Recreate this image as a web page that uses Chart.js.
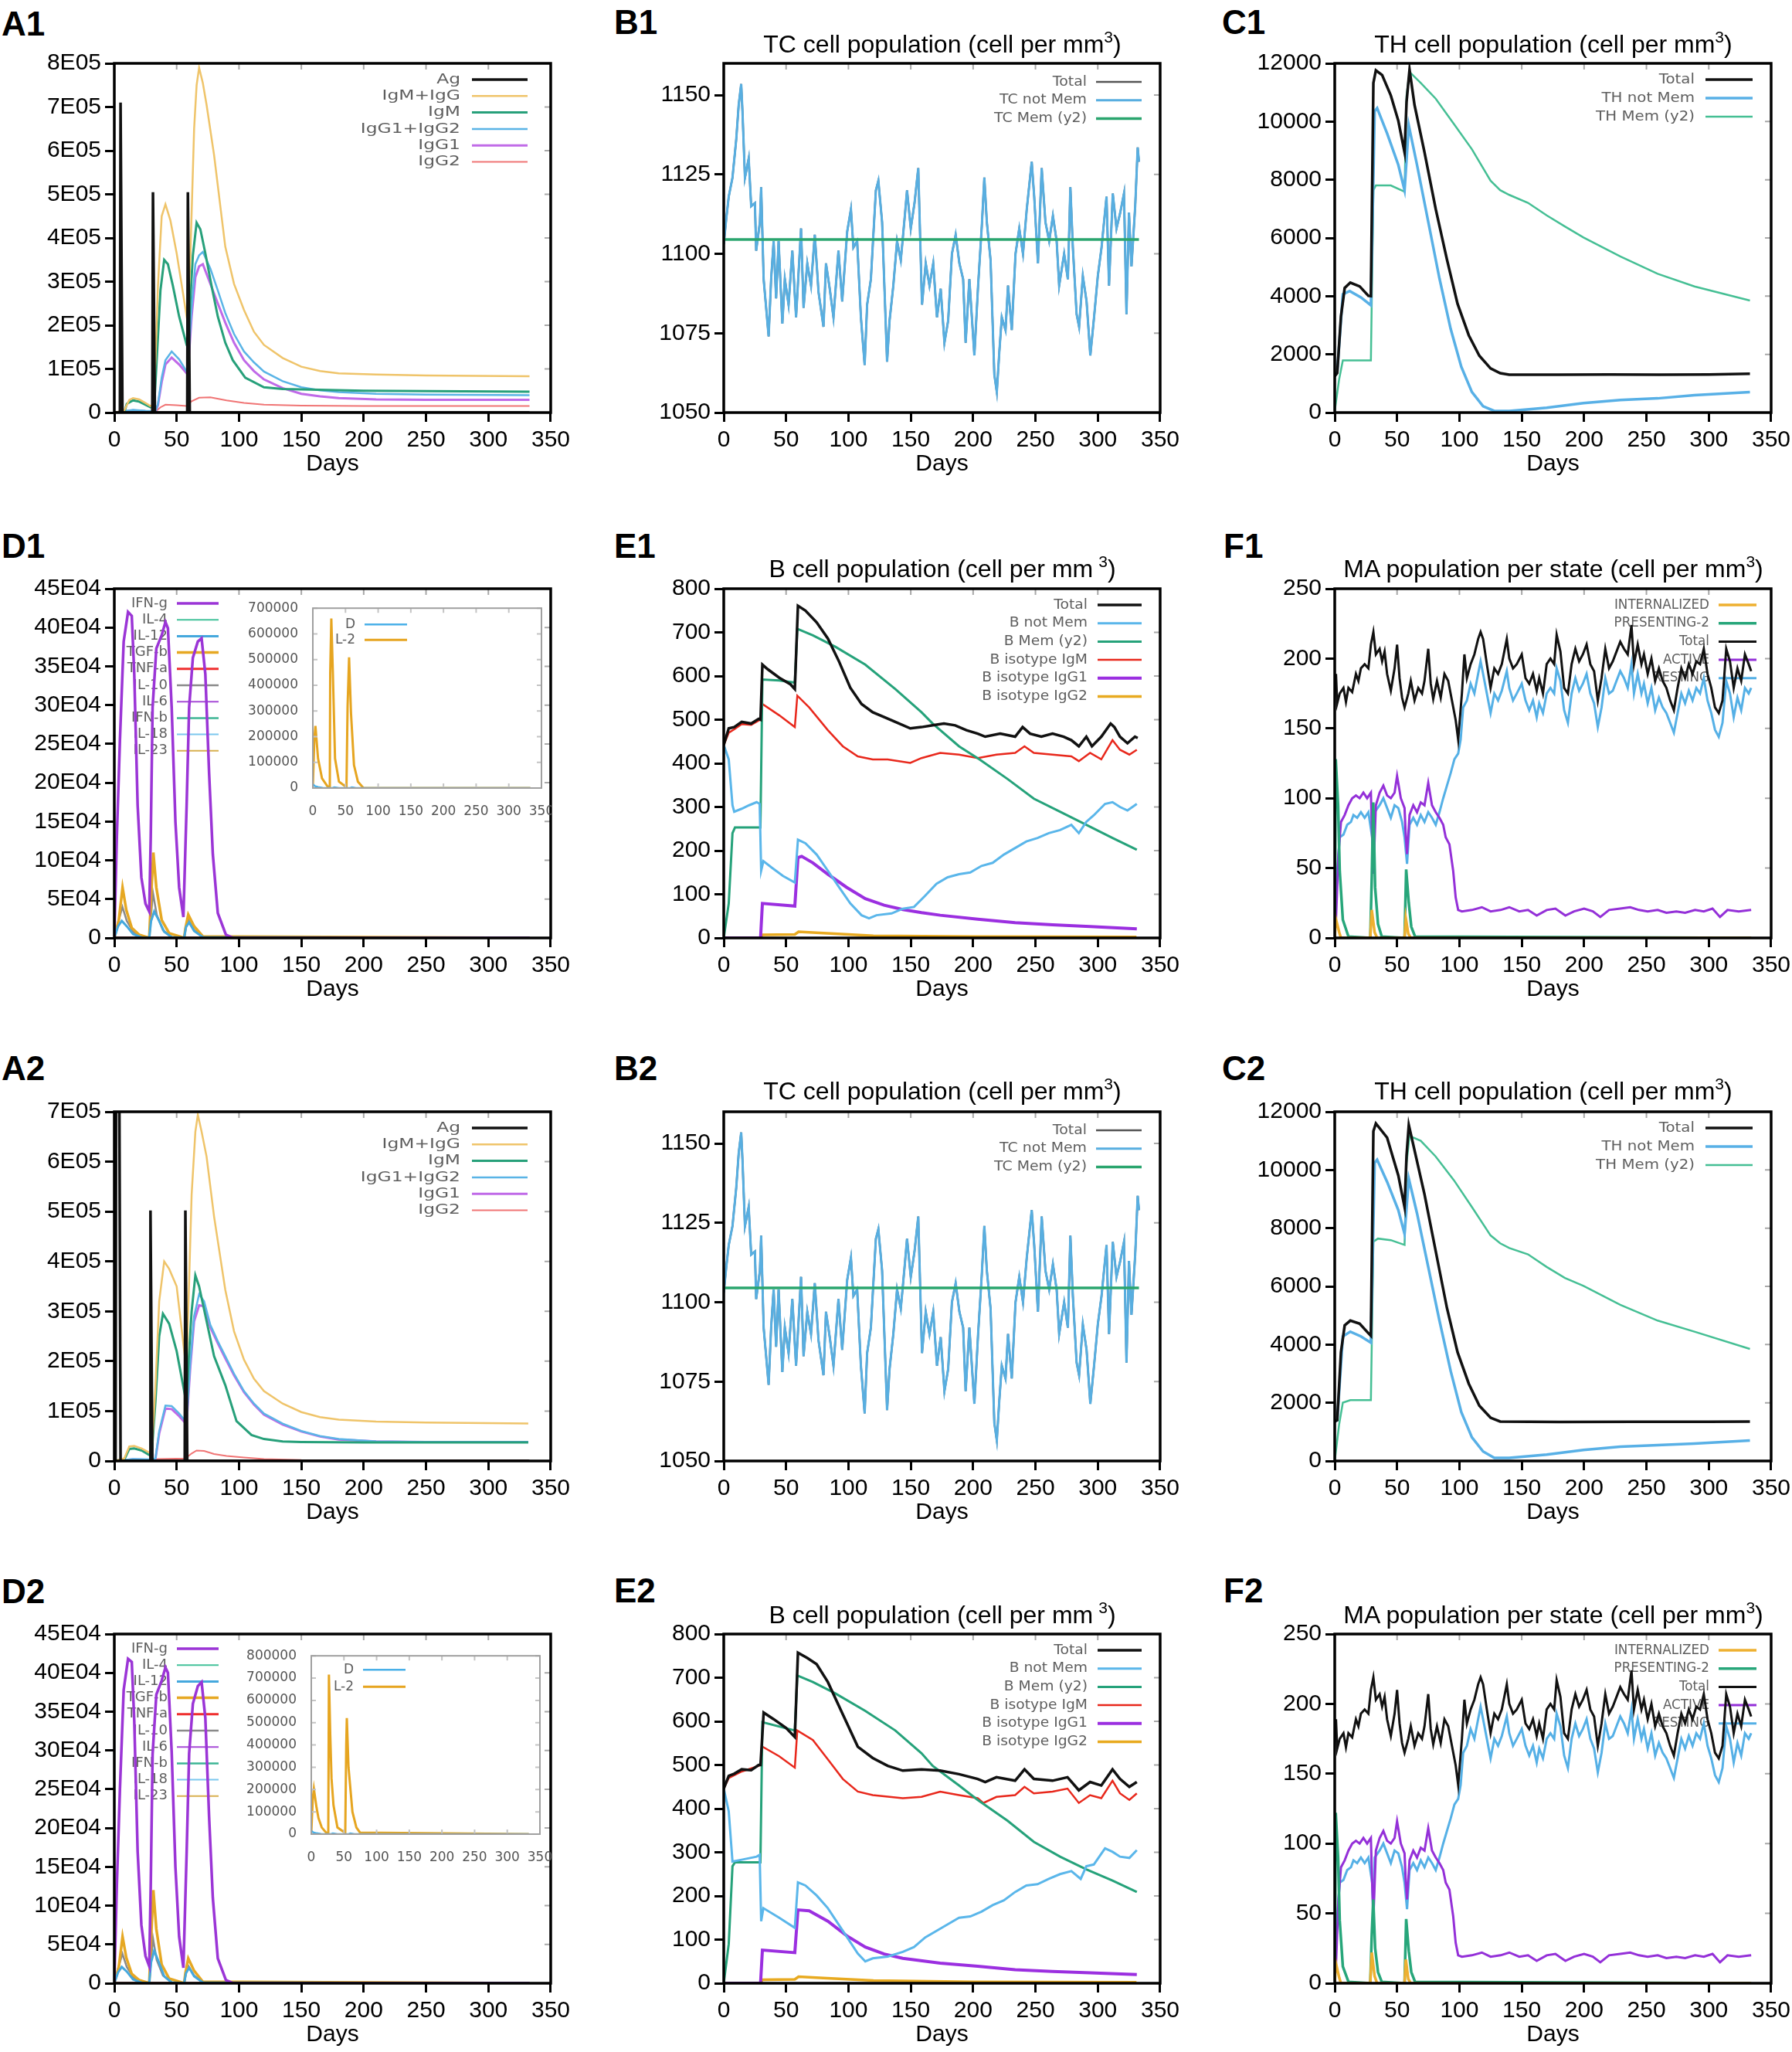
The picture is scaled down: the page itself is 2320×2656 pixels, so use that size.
<!DOCTYPE html>
<html lang="en">
<head>
  <meta charset="utf-8">
  <title>Immune simulation panels</title>
  <script src="https://cdn.jsdelivr.net/npm/chart.js@4.4.1/dist/chart.umd.min.js"></script>
  <style>
    html, body { margin: 0; padding: 0; background: #fff; }
    #fig { position: relative; width: 2320px; height: 2656px; overflow: hidden; font-family: "Liberation Sans", Arial, sans-serif; color: #000; }
    #fig canvas { position: absolute; }
    .tag { position: absolute; font-weight: bold; font-size: 44px; line-height: 44px; }
    .ttl { position: absolute; width: 566px; text-align: center; font-size: 32px; line-height: 36px; white-space: nowrap; }
    .ttl sup { font-size: 21px; vertical-align: 13px; line-height: 0; }
    .inset { position: absolute; overflow: hidden; }
    .inset canvas { left: 0; top: 0; }
  </style>
</head>
<body>
<div id="fig"></div>

<script>
// ---------- data ----------

// A1 antibody titres
const a1AgDay = [0, 4.5, 5, 6.5, 30.5, 31, 32.5, 58.5, 59, 60.5, 333];
const a1AgVal = [0, 0, 710000, 0, 0, 505000, 0, 0, 505000, 0, 0];
const a1SumDay = [0, 8, 12, 15, 20, 25, 29, 31, 33, 35, 38, 41, 45, 50, 55, 58, 59, 61, 64, 66, 68, 71, 74, 80, 89, 96, 104, 112, 120, 135, 150, 165, 180, 210, 250, 290, 333];
const a1SumVal = [0, 5000, 29000, 33000, 30000, 22000, 15000, 18000, 120000, 290000, 450000, 477000, 440000, 365000, 275000, 220000, 205000, 360000, 650000, 750000, 790000, 755000, 705000, 590000, 380000, 295000, 235000, 185000, 155000, 125000, 105000, 95000, 90000, 87000, 85000, 84000, 83000];
const a1IgMDay = [0, 8, 10, 15, 20, 25, 29, 32, 34, 37, 40, 43, 47, 52, 58, 59, 61, 63, 66, 69, 73, 78, 83, 89, 95, 105, 120, 135, 150, 200, 333];
const a1IgMVal = [0, 0, 20000, 28000, 25000, 18000, 12000, 15000, 120000, 280000, 350000, 340000, 290000, 220000, 155000, 150000, 260000, 360000, 435000, 420000, 365000, 290000, 220000, 160000, 120000, 80000, 58000, 54000, 53000, 50000, 48000];
const a1IgGDay = [0, 10, 15, 25, 33, 35, 38, 41, 46, 52, 58, 59, 62, 65, 68, 71, 77, 83, 89, 96, 104, 112, 120, 135, 150, 165, 180, 210, 250, 333];
const a1IgGVal = [0, 4000, 6000, 4000, 3000, 20000, 80000, 120000, 140000, 122000, 94000, 100000, 240000, 340000, 360000, 368000, 330000, 280000, 228000, 180000, 140000, 115000, 94000, 72000, 58000, 51000, 47000, 43000, 41000, 40000];
const a1IgG1Val = [0, 3000, 5000, 3000, 2000, 17000, 70000, 110000, 126000, 110000, 90000, 95000, 220000, 310000, 335000, 340000, 295000, 250000, 206000, 160000, 120000, 95000, 76000, 56000, 43000, 37000, 33000, 30000, 29000, 29000];
const a1IgG2Day = [0, 33, 37, 41, 50, 58, 62, 68, 77, 90, 104, 120, 150, 200, 333];
const a1IgG2Val = [0, 2000, 12000, 18000, 17000, 15000, 26000, 34000, 35000, 28000, 22000, 18000, 16000, 15000, 15000];

// A2 antibody titres
const a2AgDay = [0, 1, 1.5, 4, 5, 28.5, 29, 30.5, 56.5, 57, 58.5, 333];
const a2AgVal = [0, 0, 760000, 760000, 0, 0, 502000, 0, 0, 502000, 0, 0];
const a2SumDay = [0, 8, 12, 16, 22, 28, 30, 33, 36, 40, 44, 50, 57, 58, 60, 62, 65, 67, 70, 74, 80, 89, 96, 104, 112, 120, 135, 150, 165, 180, 210, 250, 332];
const a2SumVal = [0, 5000, 29000, 30000, 25000, 17000, 20000, 150000, 320000, 400000, 385000, 350000, 200000, 197000, 360000, 534000, 660000, 694000, 660000, 610000, 490000, 343000, 260000, 203000, 165000, 140000, 115000, 98000, 88000, 83000, 79000, 77000, 75000];
const a2IgMDay = [0, 8, 12, 16, 22, 28, 30, 33, 36, 39, 44, 50, 57, 58, 60, 62, 65, 68, 73, 80, 89, 98, 110, 120, 135, 150, 200, 332];
const a2IgMVal = [0, 3000, 24000, 25000, 21000, 12000, 15000, 120000, 250000, 295000, 275000, 220000, 127000, 125000, 220000, 300000, 372000, 350000, 292000, 210000, 152000, 80000, 52000, 44000, 39000, 38000, 37000, 37000];
const a2IgGDay = [0, 15, 30, 33, 36, 41, 46, 52, 57, 58, 61, 64, 68, 72, 77, 83, 89, 96, 104, 112, 120, 135, 150, 165, 180, 210, 250, 332];
const a2IgGVal = [0, 4000, 3000, 5000, 60000, 111000, 110000, 95000, 80000, 82000, 200000, 290000, 334000, 320000, 273000, 240000, 210000, 175000, 140000, 115000, 95000, 75000, 60000, 50000, 44000, 39000, 38000, 38000];
const a2IgG1Val = [0, 3000, 2000, 4000, 55000, 105000, 104000, 90000, 76000, 78000, 190000, 280000, 312000, 310000, 268000, 236000, 206000, 172000, 138000, 113000, 93000, 73000, 59000, 49000, 43000, 39000, 38000, 38000];
const a2IgG2Day = [0, 35, 57, 62, 66, 72, 80, 90, 104, 120, 150, 332];
const a2IgG2Val = [0, 4000, 5000, 15000, 21000, 20000, 14000, 10000, 7000, 4000, 2000, 1000];

// B1 / B2 cytotoxic T cells (both panels show the same trace)
const tcDay = [0, 2, 4, 7, 10, 12, 14, 15, 17, 20, 22, 25, 26, 29, 30, 32, 36, 38, 40, 42, 44, 47, 49, 52, 55, 58, 62, 64, 67, 70, 73, 76, 80, 82, 85, 88, 92, 95, 99, 102, 104, 107, 110, 113, 115, 118, 122, 124, 127, 131, 133, 136, 139, 142, 145, 147, 150, 153, 156, 159, 162, 165, 168, 171, 174, 177, 180, 183, 186, 189, 192, 194, 197, 201, 204, 207, 209, 211, 214, 217, 219, 221, 223, 226, 228, 231, 234, 237, 240, 243, 247, 249, 252, 255, 258, 261, 264, 267, 269, 273, 276, 278, 280, 283, 285, 288, 291, 294, 297, 300, 303, 307, 309, 312, 315, 318, 321, 323, 325, 327, 330, 332, 333];
const tcNotMem = [1103, 1111, 1118, 1124, 1136, 1147, 1153.5, 1145, 1124, 1130, 1115, 1116, 1101, 1110, 1121, 1092, 1074, 1092, 1104, 1086, 1104, 1078, 1092, 1084, 1101, 1080, 1108, 1083, 1097, 1090, 1106, 1088, 1077, 1097, 1089, 1080, 1101, 1085, 1107, 1114, 1102, 1104, 1080, 1065, 1084, 1092, 1120, 1123, 1110, 1066, 1079, 1090, 1104, 1098, 1111, 1120, 1108, 1116, 1127, 1084, 1097, 1090, 1097, 1080, 1089, 1072, 1079, 1100, 1106, 1097, 1092, 1072, 1092, 1068, 1090, 1109, 1124, 1110, 1098, 1062, 1056.5, 1069, 1080, 1076, 1090, 1076, 1100, 1108, 1100, 1114, 1129, 1118, 1097, 1127, 1110, 1104, 1112, 1104, 1090, 1100, 1092, 1121, 1102, 1081, 1077, 1093, 1085, 1068, 1080, 1093, 1102, 1118, 1090, 1119, 1108, 1113, 1119, 1081, 1113, 1096, 1115, 1133.5, 1129];
const tcMemDay = [0, 333];
const tcMemVal = [1104.5, 1104.5];

// C1 helper T cells
const c1TotDay = [0, 2, 5, 8, 12.5, 20, 27, 29, 31, 33, 38, 45, 51, 56, 57.6, 60, 64, 72, 81, 90, 98.5, 107.5, 116, 125, 132.7, 140, 180, 220, 260, 300, 333];
const c1TotVal = [1247, 1355, 3306, 4282, 4466, 4336, 4010, 4000, 11328, 11761, 11600, 10894, 10027, 8943, 10678, 11783, 10569, 8943, 6992, 5257, 3740, 2656, 1951, 1518, 1355, 1301, 1300, 1310, 1300, 1310, 1333];
const c1NotDay = [0, 2, 6.5, 12, 21, 29, 32, 34, 42, 51, 56, 59.4, 66, 75, 84, 93, 101.5, 110, 119, 128, 140, 170, 199.5, 229, 259, 288.5, 333];
const c1NotVal = [1247, 1400, 4065, 4174, 3957, 3686, 10352, 10461, 9593, 8509, 7642, 9864, 8509, 6558, 4607, 2873, 1572, 705, 217, 54, 54, 163, 325, 434, 488, 596, 705];
const c1MemDay = [0, 3.5, 6.5, 29, 31, 33, 45, 56, 57.6, 60, 69, 81, 95.6, 110, 125, 132.7, 140, 155, 170, 184.6, 199.5, 229, 259, 288.5, 333];
const c1MemVal = [54, 1138, 1789, 1789, 7642, 7805, 7805, 7588, 10894, 11707, 11328, 10786, 9918, 9051, 7967, 7642, 7480, 7208, 6775, 6395, 6016, 5366, 4770, 4336, 3848];

// C2 helper T cells
const c2TotDay = [0, 2, 5, 8, 12.5, 20, 27, 29, 31, 33, 42, 51, 56, 57.6, 59.4, 64, 72, 81, 90, 98.5, 107.5, 116, 125, 132.7, 180, 240, 300, 333];
const c2TotVal = [1355, 1400, 3740, 4661, 4824, 4716, 4390, 4300, 11328, 11599, 11111, 9810, 8726, 10500, 11545, 10678, 9160, 7208, 5257, 3740, 2656, 1897, 1485, 1355, 1340, 1350, 1350, 1355];
const c2NotDay = [0, 2, 6.5, 12.5, 21, 29, 32, 34, 42, 51, 56, 59.4, 66, 75, 84, 93, 101.5, 110, 119, 128, 140, 170, 199.5, 229, 259, 288.5, 333];
const c2NotVal = [1355, 1400, 4282, 4444, 4282, 4065, 10244, 10352, 9593, 8618, 7805, 9701, 8509, 6667, 4824, 3089, 1680, 813, 325, 108, 108, 217, 379, 488, 542, 596, 705];
const c2MemDay = [0, 3.5, 6.5, 12.5, 29, 31, 34.7, 45, 56, 57.6, 60, 69, 81, 95.6, 110, 125, 132.7, 140, 155, 170, 184.6, 199.5, 229, 259, 288.5, 333];
const c2MemVal = [0, 1247, 2005, 2092, 2092, 7534, 7642, 7588, 7425, 10244, 11166, 11003, 10461, 9647, 8726, 7750, 7479, 7317, 7100, 6667, 6287, 6016, 5366, 4824, 4444, 3848];

// D1 / D2 cytokines
const ifnDay = [0, 2, 4.5, 7.5, 11, 14, 16, 18.7, 21.7, 25, 28, 29.2, 30.7, 33.7, 38, 41, 43, 46, 49, 52, 55.4, 58, 60, 63, 67, 70, 73, 76, 79, 83, 89.5, 95.5, 333];
const d1IfnVal = [2000, 129000, 255000, 382000, 420000, 415000, 340000, 171000, 78000, 44000, 34000, 129000, 297000, 373000, 390000, 407000, 399000, 297000, 150000, 65000, 27000, 171000, 297000, 361000, 382000, 386000, 340000, 213000, 108000, 32000, 4000, 0, 0];
const d2IfnVal = [2000, 125000, 250000, 378000, 418000, 414000, 338000, 170000, 75000, 35000, 22000, 125000, 295000, 372000, 390000, 407000, 400000, 298000, 150000, 60000, 20000, 168000, 296000, 360000, 383000, 388000, 342000, 215000, 110000, 32000, 4000, 0, 0];
const tgfDay = [0, 3.6, 6.6, 9.6, 14, 20, 28, 29.2, 31.3, 33.7, 38, 44, 56, 57, 59.3, 64, 71, 333];
const d1TgfVal = [0, 23000, 65000, 36000, 13000, 4000, 0, 44000, 110000, 65000, 23000, 6000, 0, 12000, 30000, 15000, 2000, 0];
const d2TgfVal = [0, 21000, 60000, 33000, 12000, 4000, 0, 48000, 120000, 70000, 24000, 6000, 0, 13000, 32000, 16000, 2000, 0];
const il10Day = [0, 3, 6.5, 10, 15, 22, 28, 29.5, 31, 34, 39, 46, 56, 57.5, 59.5, 64, 71, 333];
const d1Il10Val = [0, 20000, 40000, 22000, 8000, 1000, 0, 30000, 58000, 30000, 10000, 1000, 0, 15000, 23000, 10000, 1000, 0];
const d2Il10Val = [0, 19000, 38000, 21000, 8000, 1000, 0, 30000, 58000, 30000, 10000, 1000, 0, 14000, 22000, 10000, 1000, 0];
const il12Day = [0, 3, 6, 10, 15, 22, 28, 29.5, 32, 35, 40, 46, 56, 57.5, 60, 64, 71, 333];
const d1Il12Val = [0, 15000, 22000, 15000, 5000, 500, 0, 22000, 34000, 25000, 8000, 1000, 0, 14000, 20000, 9000, 1000, 0];
const d2Il12Val = [0, 14000, 21000, 15000, 5000, 500, 0, 27000, 42000, 30000, 9000, 1000, 0, 13000, 20000, 9000, 1000, 0];
const flatDay = [0, 333];
const flatVal = [0, 0];

// D insets: danger signal and IL-2
const d1L2Day = [0, 2.3, 4, 8, 14, 22.6, 26, 26.6, 28.3, 30.7, 34, 40, 51.5, 53.2, 55.5, 58.4, 63, 69, 77.5, 333];
const d1L2Val = [5000, 190000, 242000, 115000, 38000, 6000, 3000, 445000, 660000, 445000, 115000, 25000, 3000, 318000, 509000, 293000, 89000, 25000, 0, 0];
const d2L2Day = [0, 2.3, 4, 8, 11, 16, 22.6, 26, 27, 29, 31, 34, 40, 52, 53.5, 54.4, 57, 63, 69, 74.6, 333];
const d2L2Val = [5000, 160000, 203000, 120000, 72000, 30000, 7000, 5000, 716000, 450000, 250000, 130000, 30000, 5000, 400000, 521000, 300000, 100000, 30000, 7000, 0];
const dSigDay = [0, 3, 8, 15, 30, 33, 40, 57, 60, 66, 333];
const dSigVal = [15000, 8000, 4000, 1000, 0, 3000, 0, 0, 3000, 0, 0];

// E1 B cells
const e1TotDay = [0, 4, 8.4, 14.4, 22, 28, 29.5, 31, 35.5, 44.5, 53.5, 57, 59.5, 65.5, 74.5, 83.5, 92.5, 101.5, 110.5, 119.5, 128.6, 137.6, 149.6, 158.6, 167.6, 176.6, 185.6, 194.6, 203.7, 209.7, 221.7, 233.7, 239.7, 245.7, 254.7, 263.7, 272.7, 278.8, 284.8, 290.8, 295.3, 302.8, 310.3, 313.3, 317.8, 323.8, 329.8, 332];
const e1TotVal = [442, 480, 483, 495, 491, 502, 500, 626, 615, 596, 581, 570, 761, 750, 723, 686, 633, 573, 536, 517, 506, 495, 480, 483, 487, 491, 487, 476, 468, 461, 468, 461, 483, 468, 461, 468, 461, 453, 439, 461, 439, 461, 491, 483, 461, 446, 461, 458];
const e1NotDay = [0, 4, 7, 8.4, 14.4, 20.4, 26.4, 28.8, 30, 31.8, 38.5, 47.5, 57, 59.5, 65.5, 74.5, 83.5, 92.5, 101.5, 110.5, 116.5, 122.5, 134.6, 143.6, 152.6, 161.6, 170.6, 179.6, 188.7, 197.7, 206.7, 215.7, 224.7, 233.7, 242.7, 251.7, 260.7, 269.7, 278.8, 284.8, 290.8, 296.8, 305.8, 311.8, 317.8, 323.8, 331.3];
const e1NotVal = [442, 409, 304, 289, 296, 304, 311, 307, 154, 176, 161, 142, 127, 225, 217, 191, 154, 116, 79, 52, 45, 52, 56, 67, 71, 97, 124, 139, 146, 150, 165, 172, 191, 206, 221, 229, 240, 247, 259, 240, 266, 281, 307, 311, 300, 292, 307];
const e1MemDay = [0, 4, 7, 9, 29.4, 31, 44.5, 57, 59, 71.5, 89.5, 113.5, 137.6, 158.6, 167.6, 188.7, 205.2, 227.7, 248.7, 269.7, 290.8, 311.8, 331.3];
const e1MemVal = [0, 79, 240, 253, 253, 592, 590, 585, 708, 693, 667, 626, 570, 517, 491, 439, 409, 364, 319, 289, 259, 229, 202];
const e1IgMDay = [0, 4, 8.4, 14.4, 22, 28, 29.5, 31, 44.5, 57, 59, 68.5, 83.5, 95.5, 107.5, 119.5, 131.5, 149.6, 158.6, 173.6, 188.7, 203.7, 218.7, 233.7, 241.2, 248.7, 263.7, 278.8, 284.8, 293.8, 302.8, 311.8, 317.8, 325.3, 331.3];
const e1IgMVal = [442, 470, 478, 490, 488, 498, 500, 536, 510, 483, 555, 528, 476, 439, 416, 409, 409, 401, 412, 424, 420, 412, 420, 424, 439, 424, 420, 416, 405, 424, 409, 453, 431, 420, 431];
const e1IgG1Day = [0, 29.5, 31, 57, 59.5, 62.5, 71.5, 83.5, 98.5, 113.5, 128.6, 143.6, 158.6, 173.6, 203.7, 233.7, 263.7, 293.8, 331.3];
const e1IgG1Val = [0, 0, 79, 73, 184, 187, 172, 146, 116, 90, 75, 65, 58, 52, 43, 35, 30, 26, 21];
const bIgG2Day = [0, 29.5, 31, 57, 60, 80, 120, 200, 331];
const e1IgG2Val = [0, 0, 7, 8, 14, 11, 5, 3, 2];

// E2 B cells
const e2TotDay = [0, 4, 8.4, 14.4, 22, 28, 29.5, 32, 40, 50, 57, 59.5, 67, 74.5, 83.5, 95.5, 107.5, 119.5, 131.5, 143.6, 158.6, 173.6, 188.7, 203.7, 209.7, 218.7, 233.7, 241.2, 248.7, 263.7, 275.7, 284.8, 293.8, 302.8, 311.8, 317.8, 325.3, 331.3];
const e2TotVal = [446, 475, 480, 490, 488, 500, 500, 620, 605, 585, 564, 757, 745, 731, 690, 616, 542, 516, 498, 487, 490, 487, 479, 468, 461, 472, 464, 490, 468, 464, 472, 442, 461, 453, 490, 468, 450, 461];
const e2NotDay = [0, 4, 7, 14.4, 26.4, 28.8, 30, 31.8, 44.5, 57, 59.5, 65.5, 74.5, 83.5, 95.5, 107.5, 113.5, 119.5, 131.5, 143.6, 152.6, 161.6, 170.6, 179.6, 188.7, 197.7, 206.7, 215.7, 224.7, 233.7, 242.7, 251.7, 260.7, 269.7, 278.8, 286.3, 290.8, 296.8, 305.8, 311.8, 317.8, 325.3, 331.3];
const e2NotVal = [446, 394, 279, 283, 290, 294, 142, 172, 150, 127, 231, 224, 201, 172, 120, 68, 50, 57, 61, 72, 83, 105, 120, 135, 150, 153, 164, 179, 190, 209, 224, 227, 239, 250, 257, 239, 268, 272, 309, 301, 290, 287, 305];
const e2MemDay = [0, 4, 7, 9, 29.4, 31, 57, 59, 71.5, 89.5, 113.5, 137.6, 158.6, 167.6, 188.7, 203.7, 227.7, 248.7, 269.7, 290.8, 311.8, 331.3];
const e2MemVal = [0, 90, 268, 277, 277, 598, 579, 705, 690, 664, 624, 579, 527, 498, 453, 420, 372, 324, 290, 261, 235, 209];
const e2IgMDay = [0, 4, 14.4, 28, 29.5, 31, 44.5, 57, 59, 71.5, 83.5, 95.5, 107.5, 119.5, 143.6, 158.6, 173.6, 188.7, 203.7, 208.2, 218.7, 233.7, 241.2, 248.7, 263.7, 275.7, 284.8, 293.8, 302.8, 311.8, 317.8, 325.3, 331.3];
const e2IgMVal = [446, 470, 485, 498, 500, 542, 520, 494, 579, 557, 513, 468, 439, 431, 424, 427, 439, 431, 424, 413, 427, 431, 450, 435, 439, 446, 413, 431, 424, 464, 435, 420, 435];
const e2IgG1Day = [0, 29.5, 31, 57, 59.5, 68.5, 83.5, 98.5, 113.5, 128.6, 143.6, 173.6, 203.7, 233.7, 263.7, 293.8, 331.3];
const e2IgG1Val = [0, 0, 76, 70, 168, 166, 142, 109, 83, 67, 57, 46, 39, 31, 27, 24, 20];
const e2IgG2Val = [0, 0, 8, 9, 15, 12, 6, 3, 2];

// F1 / F2 macrophages per state (noisy traces identical in both panels)
const maTotDay = [1, 2, 4, 7, 9, 11, 14, 17, 19, 21, 24, 27, 29, 31, 33, 36, 38, 40, 42, 45, 48, 50, 52, 54, 56, 59, 61, 64, 67, 70, 72, 75, 77, 79, 82, 85, 88, 91, 94, 97, 99, 102, 104, 106, 109, 112, 115, 117, 119, 122, 125, 128, 131, 134, 138, 140, 143, 146, 150, 153, 156, 159, 162, 164, 167, 170, 173, 176, 178, 181, 184, 187, 190, 193, 196, 199, 202, 205, 208, 211, 214, 217, 220, 223, 226, 229, 232, 235, 238, 240, 243, 246, 248, 251, 254, 257, 260, 263, 266, 269, 272, 275, 278, 281, 284, 287, 290, 293, 296, 299, 302, 305, 308, 311, 314, 317, 320, 323, 326, 329, 332, 334];
const maTotVal = [189, 168, 175, 179, 169, 179, 176, 189, 184, 193, 196, 193, 210, 219, 203, 207, 198, 205, 189, 177, 193, 210, 186, 172, 165, 175, 184, 170, 179, 175, 184, 207, 182, 171, 184, 172, 189, 184, 170, 156, 142, 175, 203, 186, 196, 203, 214, 219, 214, 196, 179, 193, 189, 196, 214, 200, 193, 196, 203, 186, 182, 189, 177, 186, 175, 196, 200, 196, 217, 205, 179, 175, 196, 207, 198, 203, 210, 196, 191, 170, 186, 207, 193, 198, 205, 212, 207, 203, 224, 196, 210, 196, 203, 189, 200, 184, 193, 184, 179, 170, 163, 179, 193, 186, 196, 189, 198, 196, 207, 189, 179, 165, 161, 170, 207, 198, 179, 193, 184, 203, 196, 191];
const maRestDay = [1, 2, 4, 7, 10, 13, 15, 18, 21, 24, 27, 30, 31, 32, 36, 39, 42, 45, 48, 51, 54, 56, 58, 60, 63, 66, 69, 72, 75, 78, 81, 84, 87, 90, 93, 96, 99, 101, 103, 106, 109, 112, 115, 117, 119, 122, 125, 128, 131, 134, 138, 140, 143, 146, 150, 153, 156, 159, 162, 164, 167, 170, 173, 176, 178, 181, 184, 187, 190, 193, 196, 199, 202, 205, 208, 211, 214, 217, 220, 223, 226, 229, 232, 235, 238, 240, 243, 246, 248, 251, 254, 257, 260, 263, 266, 269, 272, 275, 278, 281, 284, 287, 290, 293, 296, 299, 302, 305, 308, 311, 314, 317, 320, 323, 326, 329, 332, 334];
const maRestVal = [25, 48, 72, 74, 81, 83, 88, 86, 90, 86, 90, 72, 48, 90, 95, 100, 93, 86, 95, 93, 83, 72, 53, 81, 86, 81, 88, 83, 90, 86, 81, 90, 100, 109, 118, 128, 132, 142, 165, 170, 182, 175, 189, 198, 189, 175, 161, 175, 170, 177, 191, 179, 170, 175, 182, 170, 163, 170, 158, 168, 161, 175, 179, 175, 193, 184, 163, 154, 175, 186, 177, 182, 189, 175, 168, 151, 165, 186, 175, 177, 184, 191, 186, 179, 196, 175, 189, 175, 182, 168, 179, 163, 172, 165, 161, 154, 147, 161, 175, 168, 177, 170, 179, 175, 186, 170, 161, 149, 144, 154, 184, 175, 158, 172, 163, 179, 175, 179];
const maActDay = [1, 3, 5, 8, 11, 14, 17, 20, 23, 26, 29, 30, 31, 33, 36, 39, 42, 45, 48, 50, 53, 56, 57, 58, 60, 63, 66, 69, 72, 75, 78, 81, 84, 87, 89, 92, 95, 97, 99, 102, 110, 118, 125, 133, 140, 148, 155, 162, 170, 177, 185, 192, 200, 207, 213, 220, 229, 237, 244, 251, 259, 266, 274, 281, 289, 296, 303, 309, 315, 324, 334];
const maActVal = [13, 60, 83, 88, 95, 100, 102, 100, 104, 100, 104, 72, 46, 95, 104, 109, 102, 100, 104, 116, 100, 93, 72, 60, 88, 95, 90, 97, 95, 111, 95, 90, 86, 81, 72, 67, 48, 29, 20, 19, 20, 22, 19, 20, 22, 19, 20, 16, 20, 21, 16, 19, 21, 19, 15, 20, 21, 22, 20, 19, 20, 18, 19, 18, 20, 19, 21, 15, 20, 19, 20];
const maPresDay = [0, 0.8, 2.7, 4, 6.5, 11, 28.5, 29.7, 30.9, 32.4, 34.7, 37.7, 56, 57.3, 59.4, 61.4, 64.4, 334];
const f1PresVal = [0, 128, 95, 48, 13, 1, 0, 43, 97, 36, 10, 1, 0, 49, 25, 8, 1, 0];
const f2PresVal = [0, 122, 90, 45, 12, 1, 0, 35, 60, 25, 8, 1, 0, 46, 23, 8, 1, 0];
const maIntDay = [0, 0.8, 3.6, 5, 28.5, 29.7, 32, 34, 56, 57, 59, 61, 334];
const f1IntVal = [0, 14, 4, 0, 0, 20, 4, 0, 0, 14, 3, 0, 0];
const f2IntVal = [0, 15, 4, 0, 0, 22, 5, 0, 0, 17, 3, 0, 0];

// ---------- layout ----------
const FONT = '"Liberation Sans", Arial, sans-serif';
const KEYFONT = '"DejaVu Sans", sans-serif';
const COL_X = [148, 937, 1728];
const ROW_Y = [81, 761, 1438, 2114];
const PW = 566, PH = 453;
const YW = 145, XH = 92, PADT = 22, PADR = 30;
const fig = document.getElementById('fig');

const pts = (d, v) => d.map((x, i) => ({ x: x, y: v[i] }));
function ser(label, d, v, color, width, order) {
  return { label: label, data: pts(d, v), borderColor: color, borderWidth: width,
           pointRadius: 0, tension: 0, fill: false, order: order || 0 };
}

// gnuplot style key: right aligned label, then a short line sample
function keyPlugin(g) {
  return {
    id: 'gpKey',
    beforeDatasetsDraw(chart) {
      const ctx = chart.ctx, a = chart.chartArea;
      ctx.save();
      ctx.font = (g.size || 18) + 'px ' + KEYFONT;
      ctx.textAlign = 'right';
      ctx.textBaseline = 'middle';
      chart.data.datasets.forEach((ds, i) => {
        const y = a.top + g.y0 + i * g.dy;
        ctx.save();
        ctx.translate(a.left + g.tx, y);
        ctx.scale(g.sx || 1, 1);
        ctx.fillStyle = '#5e5e5e';
        ctx.fillText(ds.label, 0, 0);
        ctx.restore();
        ctx.strokeStyle = ds.borderColor;
        ctx.lineWidth = ds.borderWidth;
        ctx.beginPath();
        ctx.moveTo(a.left + g.l0, y);
        ctx.lineTo(a.left + g.l1, y);
        ctx.stroke();
      });
      ctx.restore();
    }
  };
}

function framePlugin(color, width, inner) {
  return {
    id: 'frame',
    afterDatasetsDraw(chart) {
      const ctx = chart.ctx, a = chart.chartArea;
      const sx = chart.scales.x, sy = chart.scales.y;
      ctx.save();
      ctx.strokeStyle = inner.color;
      ctx.lineWidth = 2;
      ctx.beginPath();
      sx.ticks.forEach(t => {
        const px = sx.getPixelForValue(t.value);
        ctx.moveTo(px, a.top); ctx.lineTo(px, a.top + inner.len);
        if (inner.all) { ctx.moveTo(px, a.bottom); ctx.lineTo(px, a.bottom - inner.len); }
      });
      sy.ticks.forEach(t => {
        const py = sy.getPixelForValue(t.value);
        ctx.moveTo(a.right, py); ctx.lineTo(a.right - inner.len, py);
        if (inner.all) { ctx.moveTo(a.left, py); ctx.lineTo(a.left + inner.len, py); }
      });
      ctx.stroke();
      ctx.strokeStyle = color;
      ctx.lineWidth = width;
      ctx.strokeRect(a.left, a.top, a.right - a.left, a.bottom - a.top);
      ctx.restore();
    }
  };
}

function mainOptions(y) {
  const tickFont = { family: FONT, size: 30 };
  const grid = { drawOnChartArea: false, drawTicks: true, tickLength: 12, tickWidth: 3, color: '#000' };
  return {
    responsive: false, maintainAspectRatio: false, animation: false,
    layout: { padding: { top: PADT, right: PADR, left: 0, bottom: 0 } },
    plugins: { legend: { display: false }, tooltip: { enabled: false } },
    scales: {
      x: {
        type: 'linear', min: 0, max: 350,
        ticks: { stepSize: 50, font: tickFont, color: '#000', padding: 6, maxRotation: 0, autoSkip: false, includeBounds: false },
        grid: grid, border: { display: false },
        title: { display: true, text: 'Days', font: tickFont, color: '#000', padding: { top: 0, bottom: 7 } },
        afterFit: s => { s.height = XH; }
      },
      y: {
        type: 'linear', min: y.min, max: y.max,
        ticks: { stepSize: y.step, font: tickFont, color: '#000', padding: 5, autoSkip: false, includeBounds: false,
                 callback: y.fmt || (v => String(v)) },
        grid: grid, border: { display: false },
        afterFit: s => { s.width = YW; }
      }
    }
  };
}

function panel(col, row, y, key, datasets) {
  const left = COL_X[col], top = ROW_Y[row];
  const cv = document.createElement('canvas');
  cv.width = YW + PW + PADR;
  cv.height = PADT + PH + XH;
  cv.style.left = (left - YW) + 'px';
  cv.style.top = (top - PADT) + 'px';
  fig.appendChild(cv);
  new Chart(cv, {
    type: 'line',
    data: { datasets: datasets },
    options: mainOptions(y),
    plugins: [keyPlugin(key), framePlugin('#000', 3.5, { color: '#a8a8a8', len: 8, all: false })]
  });
}

function addTag(text, x, cy) {
  const d = document.createElement('div');
  d.className = 'tag';
  d.textContent = text;
  d.style.left = x + 'px';
  d.style.top = (cy - 22) + 'px';
  fig.appendChild(d);
}

function addTitle(col, cy, text, gap) {
  const d = document.createElement('div');
  d.className = 'ttl';
  d.style.left = COL_X[col] + 'px';
  d.style.top = (cy - 18) + 'px';
  d.innerHTML = text + ' (cell per mm<sup' + (gap ? ' style="margin-left:7px"' : '') + '>3</sup>)';
  fig.appendChild(d);
}

function inset(box, yMax, key, datasets) {
  const wrap = document.createElement('div');
  wrap.className = 'inset';
  const ox = box.left - 105, oy = box.top - 20;
  wrap.style.left = ox + 'px';
  wrap.style.top = oy + 'px';
  wrap.style.width = (COL_X[0] + PW - ox) + 'px';
  wrap.style.height = (box.bottom - oy + 46) + 'px';
  const cv = document.createElement('canvas');
  cv.width = 460;
  cv.height = box.bottom - oy + 46;
  wrap.appendChild(cv);
  fig.appendChild(wrap);
  const f = { family: KEYFONT, size: 17 };
  new Chart(cv, {
    type: 'line',
    data: { datasets: datasets },
    options: {
      responsive: false, maintainAspectRatio: false, animation: false,
      layout: { padding: { top: 20, right: 460 - (box.right - ox), left: 0, bottom: 0 } },
      plugins: { legend: { display: false }, tooltip: { enabled: false } },
      scales: {
        x: { type: 'linear', min: 0, max: 350,
             ticks: { stepSize: 50, font: f, color: '#555', padding: 12, maxRotation: 0, autoSkip: false, includeBounds: false },
             grid: { display: false }, border: { display: false },
             afterFit: s => { s.height = 46; } },
        y: { type: 'linear', min: 0, max: yMax,
             ticks: { stepSize: 100000, font: f, color: '#555', padding: 11, autoSkip: false, includeBounds: false, callback: v => String(v) },
             grid: { display: false }, border: { display: false },
             afterFit: s => { s.width = 105; } }
      }
    },
    plugins: [keyPlugin(key), framePlugin('#a0a0a0', 2, { color: '#c4c4c4', len: 6, all: true })]
  });
}

// ---------- build panels ----------
const fmtE05 = v => v === 0 ? '0' : (v / 1e5) + 'E05';
const fmtE04 = v => v === 0 ? '0' : (v / 1e4) + 'E04';
const keyA = { tx: 448, l0: 463, l1: 535, y0: 21, dy: 21.3, sx: 1.3 };
const keyB = { tx: 470, l0: 482, l1: 541, y0: 24, dy: 23.8, sx: 1.05 };
const keyC = { tx: 466, l0: 480, l1: 541, y0: 21, dy: 24, sx: 1.1 };
const keyD = { tx: 69, l0: 81, l1: 135, y0: 19, dy: 21.2 };
const keyE = { tx: 471, l0: 484, l1: 541, y0: 21, dy: 23.7, sx: 1.04 };
const keyF = { tx: 485, l0: 497, l1: 546, y0: 21, dy: 23.7, sx: 0.93 };

function abPanel(row, ag, sum, igm, igg, igg1, igg2, yMax) {
  panel(0, row, { min: 0, max: yMax, step: 100000, fmt: fmtE05 }, keyA, [
    ser('Ag', ag[0], ag[1], '#111111', 3.5),
    ser('IgM+IgG', sum[0], sum[1], '#efc46a', 2.5),
    ser('IgM', igm[0], igm[1], '#27a07a', 3),
    ser('IgG1+IgG2', igg[0], igg[1], '#5ab4e6', 2.5),
    ser('IgG1', igg1[0], igg1[1], '#c06ae8', 3),
    ser('IgG2', igg2[0], igg2[1], '#f07575', 2)
  ]);
}
abPanel(0, [a1AgDay, a1AgVal], [a1SumDay, a1SumVal], [a1IgMDay, a1IgMVal], [a1IgGDay, a1IgGVal], [a1IgGDay, a1IgG1Val], [a1IgG2Day, a1IgG2Val], 800000);
abPanel(2, [a2AgDay, a2AgVal], [a2SumDay, a2SumVal], [a2IgMDay, a2IgMVal], [a2IgGDay, a2IgGVal], [a2IgGDay, a2IgG1Val], [a2IgG2Day, a2IgG2Val], 700000);

function tcPanel(row) {
  panel(1, row, { min: 1050, max: 1160, step: 25 }, keyB, [
    ser('Total', tcDay, tcNotMem, '#555555', 2.5, 2),
    ser('TC not Mem', tcDay, tcNotMem, '#58aee0', 3, 1),
    ser('TC Mem (y2)', tcMemDay, tcMemVal, '#2aa56e', 3.5, 0)
  ]);
}
tcPanel(0); tcPanel(2);

function thPanel(row, tot, not, mem) {
  panel(2, row, { min: 0, max: 12000, step: 2000 }, keyC, [
    ser('Total', tot[0], tot[1], '#111111', 3.5),
    ser('TH not Mem', not[0], not[1], '#58b0e6', 3.5),
    ser('TH Mem (y2)', mem[0], mem[1], '#45bf94', 2.5)
  ]);
}
thPanel(0, [c1TotDay, c1TotVal], [c1NotDay, c1NotVal], [c1MemDay, c1MemVal]);
thPanel(2, [c2TotDay, c2TotVal], [c2NotDay, c2NotVal], [c2MemDay, c2MemVal]);

function cytoPanel(row, ifn, tgf, il10, il12) {
  panel(0, row, { min: 0, max: 450000, step: 50000, fmt: fmtE04 }, keyD, [
    ser('IFN-g', ifnDay, ifn, '#9b35d6', 3.5),
    ser('IL-4', flatDay, flatVal, '#43c29a', 2),
    ser('IL-12', il12Day, il12, '#45a8dd', 3),
    ser('TGF-b', tgfDay, tgf, '#e6a823', 3.5),
    ser('TNF-a', flatDay, flatVal, '#ef2f2f', 3),
    ser('IL-10', il10Day, il10, '#8a8a8a', 2.5),
    ser('IL-6', flatDay, flatVal, '#a64bd6', 2),
    ser('IFN-b', flatDay, flatVal, '#3cb594', 2.5),
    ser('IL-18', flatDay, flatVal, '#7cc8ee', 2),
    ser('IL-23', flatDay, flatVal, '#d8b050', 2)
  ]);
}
cytoPanel(1, d1IfnVal, d1TgfVal, d1Il10Val, d1Il12Val);
cytoPanel(3, d2IfnVal, d2TgfVal, d2Il10Val, d2Il12Val);

inset({ left: 405, right: 701, top: 786, bottom: 1020 }, 700000, { tx: 55, l0: 67, l1: 122, y0: 21, dy: 20, size: 17 }, [
  ser('D', dSigDay, dSigVal, '#4ab0e8', 2.5),
  ser('L-2', d1L2Day, d1L2Val, '#e6a520', 3)
]);
inset({ left: 403, right: 699, top: 2142, bottom: 2374 }, 800000, { tx: 55, l0: 67, l1: 122, y0: 18, dy: 22, size: 17 }, [
  ser('D', dSigDay, dSigVal, '#4ab0e8', 2.5),
  ser('L-2', d2L2Day, d2L2Val, '#e6a520', 3)
]);

function bPanel(row, tot, not, mem, igm, igg1, igg2) {
  panel(1, row, { min: 0, max: 800, step: 100 }, keyE, [
    ser('Total', tot[0], tot[1], '#111111', 3.5),
    ser('B not Mem', not[0], not[1], '#5ab6ea', 3),
    ser('B Mem (y2)', mem[0], mem[1], '#25a27a', 3),
    ser('B isotype IgM', igm[0], igm[1], '#e8281c', 2.5),
    ser('B isotype IgG1', igg1[0], igg1[1], '#9b2fe0', 4),
    ser('B isotype IgG2', igg2[0], igg2[1], '#e8aa20', 3.5)
  ]);
}
bPanel(1, [e1TotDay, e1TotVal], [e1NotDay, e1NotVal], [e1MemDay, e1MemVal], [e1IgMDay, e1IgMVal], [e1IgG1Day, e1IgG1Val], [bIgG2Day, e1IgG2Val]);
bPanel(3, [e2TotDay, e2TotVal], [e2NotDay, e2NotVal], [e2MemDay, e2MemVal], [e2IgMDay, e2IgMVal], [e2IgG1Day, e2IgG1Val], [bIgG2Day, e2IgG2Val]);

function maPanel(row, pres, intl) {
  panel(2, row, { min: 0, max: 250, step: 50 }, keyF, [
    ser('INTERNALIZED', maIntDay, intl, '#eeb030', 3.5),
    ser('PRESENTING-2', maPresDay, pres, '#27a67a', 3.5),
    ser('Total', maTotDay, maTotVal, '#111111', 3),
    ser('ACTIVE', maActDay, maActVal, '#9430d8', 3),
    ser('RESTING', maRestDay, maRestVal, '#55b0e6', 3)
  ]);
}
maPanel(1, f1PresVal, f1IntVal);
maPanel(3, f2PresVal, f2IntVal);

// panel letters
addTag('A1', 2, 31); addTag('B1', 795, 29); addTag('C1', 1582, 29);
addTag('D1', 2, 707); addTag('E1', 795, 707); addTag('F1', 1584, 707);
addTag('A2', 2, 1383); addTag('B2', 795, 1383); addTag('C2', 1582, 1383);
addTag('D2', 2, 2060); addTag('E2', 795, 2059); addTag('F2', 1584, 2059);

// panel titles
addTitle(1, 57, 'TC cell population');
addTitle(2, 57, 'TH cell population');
addTitle(1, 736, 'B cell population', true);
addTitle(2, 736, 'MA population per state');
addTitle(1, 1412, 'TC cell population');
addTitle(2, 1412, 'TH cell population');
addTitle(1, 2090, 'B cell population', true);
addTitle(2, 2090, 'MA population per state');
</script>
</body>
</html>
